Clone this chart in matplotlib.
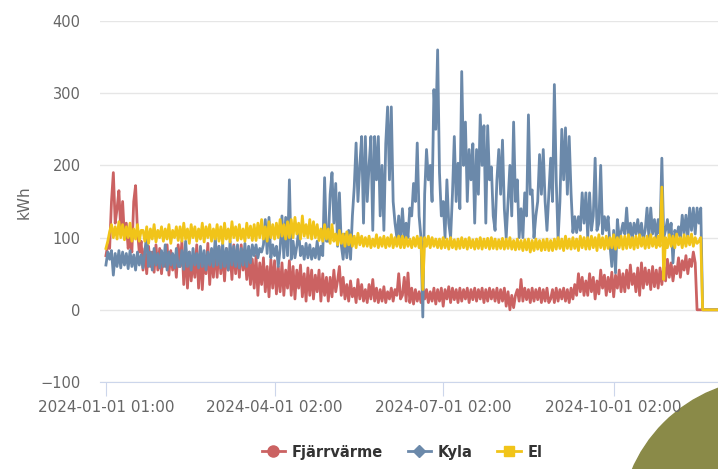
import numpy as np
import pandas as pd
import matplotlib
matplotlib.use('Agg')
import matplotlib.pyplot as plt
from matplotlib.lines import Line2D
from matplotlib.patches import Circle

# Daily values, starting 2024-01-01 01:00 (20 days per row)
fjarrvarme = [75, 90, 85, 150, 190, 120, 140, 165, 110, 150, 100, 120, 85, 100, 80, 150, 172, 110, 80, 95,
              55, 85, 50, 88, 60, 80, 52, 90, 55, 85, 50, 78, 60, 90, 48, 82, 55, 75, 45, 90,
              60, 95, 35, 85, 30, 80, 40, 70, 45, 90, 30, 85, 28, 75, 50, 92, 35, 80, 45, 88,
              45, 88, 50, 82, 40, 85, 55, 80, 42, 90, 50, 85, 45, 90, 55, 78, 42, 72, 35, 70,
              30, 75, 20, 65, 35, 72, 25, 60, 18, 70, 30, 68, 22, 60, 25, 65, 20, 55, 30, 68,
              20, 60, 15, 55, 30, 62, 18, 50, 12, 58, 20, 55, 15, 48, 25, 55, 12, 50, 20, 45,
              12, 45, 18, 55, 25, 40, 60, 20, 45, 15, 35, 12, 40, 18, 30, 10, 42, 15, 35, 12,
              28, 10, 35, 15, 42, 12, 30, 10, 28, 12, 32, 10, 25, 15, 30, 12, 28, 20, 50, 15,
              20, 45, 12, 51, 10, 30, 8, 28, 12, 25, 10, 30, 15, 28, 10, 25, 12, 30, 8, 28,
              12, 30, 5, 28, 15, 32, 10, 30, 14, 28, 10, 30, 12, 28, 15, 30, 10, 28, 14, 30,
              12, 28, 15, 30, 10, 28, 12, 30, 15, 28, 12, 30, 10, 28, 12, 30, 5, 25, 0, 20,
              3, 20, 28, 12, 42, 12, 30, 14, 28, 10, 30, 12, 28, 14, 30, 10, 28, 12, 30, 10,
              15, 28, 10, 30, 12, 28, 15, 30, 12, 28, 10, 30, 15, 35, 20, 50, 25, 45, 20, 40,
              20, 50, 25, 45, 15, 40, 22, 55, 30, 48, 20, 45, 25, 52, 18, 48, 30, 55, 25, 50,
              25, 55, 30, 62, 35, 50, 25, 58, 20, 65, 30, 58, 35, 55, 28, 60, 32, 55, 30, 58,
              35, 60, 40, 70, 45, 65, 40, 60, 50, 72, 45, 68, 55, 75, 50, 70, 60, 80, 65, 0,
              0, 0, 0, 0, 0, 0, 0, 0, 0, 0, 0]

kyla = [62, 80, 70, 82, 48, 78, 60, 82, 58, 80, 62, 78, 57, 82, 60, 76, 55, 80, 62, 76,
        58, 80, 105, 60, 80, 55, 85, 62, 78, 58, 82, 60, 90, 55, 80, 62, 78, 58, 85, 60,
        60, 82, 56, 95, 60, 80, 55, 85, 62, 78, 58, 88, 60, 82, 55, 80, 62, 85, 60, 100,
        62, 88, 58, 92, 60, 85, 55, 95, 62, 88, 60, 90, 58, 85, 62, 92, 60, 88, 65, 90,
        75, 90, 72, 85, 80, 90, 125, 78, 128, 72, 90, 75, 88, 60, 85, 130, 72, 128, 75, 180,
        70, 95, 72, 88, 110, 75, 88, 70, 92, 72, 90, 70, 85, 72, 95, 70, 88, 75, 183, 95,
        95, 160, 190, 120, 175, 88, 162, 90, 70, 105, 72, 110, 70, 130, 170, 231, 150, 200, 240, 120,
        240, 150, 200, 240, 110, 240, 180, 240, 130, 200, 110, 230, 281, 180, 281, 150, 120, 100, 130, 95,
        140, 100, 120, 100, 141, 130, 175, 150, 231, 130, 100, -10, 160, 222, 180, 200, 150, 305, 250, 360,
        190, 130, 150, 100, 180, 120, 100, 160, 240, 150, 203, 140, 330, 200, 260, 150, 222, 180, 230, 120,
        222, 160, 270, 200, 255, 120, 255, 180, 198, 130, 110, 180, 222, 160, 235, 140, 100, 150, 200, 130,
        260, 150, 180, 100, 140, 100, 162, 130, 270, 160, 166, 100, 130, 150, 215, 160, 222, 150, 110, 160,
        210, 150, 312, 180, 97, 150, 250, 180, 252, 160, 240, 162, 107, 129, 107, 129, 110, 162, 120, 162,
        100, 162, 110, 130, 210, 110, 120, 200, 105, 129, 110, 129, 90, 60, 110, 51, 125, 100, 107, 120,
        105, 141, 100, 120, 98, 120, 105, 125, 100, 120, 98, 110, 141, 100, 141, 105, 125, 100, 125, 105,
        210, 100, 110, 125, 100, 120, 65, 110, 100, 115, 100, 131, 105, 131, 100, 141, 110, 141, 105, 141,
        120, 141, 0, 0, 0, 0, 0, 0, 0, 0, 0]

el = [85, 95, 108, 118, 100, 115, 98, 122, 100, 118, 97, 115, 100, 120, 95, 112, 98, 118, 95, 110,
      110, 95, 115, 92, 112, 98, 118, 94, 110, 100, 115, 95, 112, 98, 118, 92, 110, 100, 115, 96,
      115, 95, 120, 98, 112, 92, 118, 100, 115, 95, 112, 98, 120, 94, 115, 100, 118, 95, 112, 98,
      118, 95, 115, 92, 120, 98, 112, 94, 122, 100, 115, 96, 118, 98, 112, 95, 120, 100, 116, 96,
      118, 96, 120, 100, 125, 98, 115, 95, 122, 100, 118, 98, 120, 100, 125, 102, 118, 98, 122, 100,
      125, 100, 128, 105, 120, 98, 130, 102, 118, 100, 125, 98, 122, 100, 118, 96, 112, 95, 118, 98,
      112, 92, 118, 95, 105, 90, 110, 92, 105, 88, 108, 90, 104, 88, 102, 86, 106, 90, 102, 88,
      100, 88, 102, 86, 98, 88, 104, 86, 100, 88, 102, 86, 100, 88, 104, 86, 100, 88, 102, 86,
      102, 86, 100, 88, 98, 86, 100, 88, 102, 86, 100, 28, 100, 88, 102, 86, 100, 88, 98, 86,
      98, 85, 100, 86, 98, 84, 100, 86, 97, 84, 98, 85, 100, 86, 98, 84, 100, 86, 97, 84,
      98, 85, 100, 84, 98, 86, 99, 84, 100, 85, 98, 84, 97, 85, 99, 84, 98, 85, 100, 84,
      96, 83, 98, 84, 96, 82, 97, 83, 98, 80, 96, 82, 98, 84, 96, 82, 97, 83, 98, 82,
      96, 82, 98, 84, 100, 85, 98, 82, 102, 85, 98, 84, 100, 85, 98, 82, 102, 86, 100, 84,
      100, 84, 102, 86, 100, 82, 104, 86, 100, 84, 102, 85, 100, 86, 104, 84, 100, 86, 102, 84,
      102, 85, 104, 86, 100, 84, 102, 86, 104, 88, 100, 85, 102, 86, 104, 88, 100, 86, 102, 88,
      170, 42, 100, 86, 104, 88, 102, 86, 105, 90, 100, 86, 104, 88, 102, 90, 105, 88, 100, 92,
      95, 100, 0, 0, 0, 0, 0, 0, 0, 0, 0]

series_names = ['Fjärrvärme', 'Kyla', 'El']
tick_labels = ['2024-01-01 01:00', '2024-04-01 02:00', '2024-07-01 02:00', '2024-10-01 02:00']

start = pd.Timestamp('2024-01-01 01:00')
tick_dates = pd.to_datetime(tick_labels)

c_red = '#cb6262'
c_blue = '#6b89aa'
c_yellow = '#f1c419'
grey = '#666666'

fig = plt.figure(figsize=(7.18, 4.69), dpi=100)
ax = fig.add_axes([100/718, 1-382/469, 618/718, 361/469])

for values, col, z in [(fjarrvarme, c_red, 3), (kyla, c_blue, 4), (el, c_yellow, 5)]:
    dates = pd.date_range(start, periods=len(values), freq='D')
    ax.plot(dates, values, color=col, lw=2.0, zorder=z)

ax.set_xlim(start - pd.Timedelta(days=3.2), start + pd.Timedelta(days=330.3))
ax.set_ylim(-100, 400)

# Grid and axes in the highcharts look
ax.set_yticks([-100, 0, 100, 200, 300, 400])
ax.yaxis.grid(True, color='#e6e6e6', lw=1)
ax.set_axisbelow(True)
for s in ['top', 'right', 'left']:
    ax.spines[s].set_visible(False)
ax.spines['bottom'].set_color('#ccd6eb')
ax.tick_params(axis='y', length=0, pad=14, labelsize=10.5, labelcolor=grey)
ax.set_xticks(tick_dates)
ax.set_xticklabels(tick_labels)
ax.tick_params(axis='x', length=10, color='#ccd6eb', pad=3, labelsize=11, labelcolor=grey)

fig.text(24/718, 1-202/469, 'kWh', rotation=90, ha='center', va='center', fontsize=11, color=grey)

handles = [Line2D([], [], color=c_red, lw=2, marker='o', markersize=8),
           Line2D([], [], color=c_blue, lw=2, marker='D', markersize=6),
           Line2D([], [], color=c_yellow, lw=2, marker='s', markersize=7)]
leg = fig.legend(handles, series_names, loc='center', bbox_to_anchor=(402/718, 1-452/469),
                 ncol=3, frameon=False, handlelength=1.6, columnspacing=1.7, handletextpad=0.45,
                 prop={'weight': 'bold', 'size': 10.5})
for t in leg.get_texts():
    t.set_color('#333333')

# Green decoration in the lower right corner
blob = Circle((770, -60), 150, transform=None, color='#8a8a48', zorder=-1)
fig.add_artist(blob)

fig.savefig('out.png', dpi=100)
